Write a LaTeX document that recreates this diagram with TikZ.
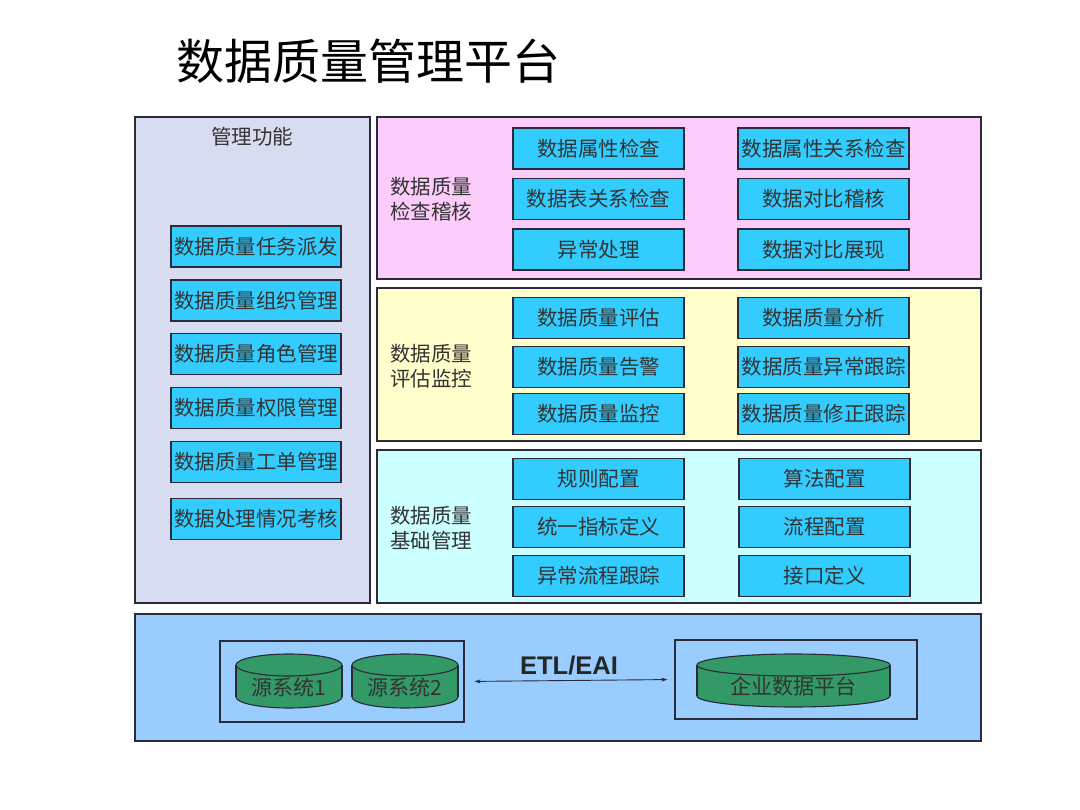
\documentclass[tikz,border=0pt]{standalone}
\usepackage{fontspec}
\setmainfont{Noto Sans CJK SC}
\newfontfamily\arialfont{Liberation Sans}
\usetikzlibrary{arrows.meta}
\definecolor{txt}{HTML}{333333}
\definecolor{lavender}{HTML}{D8DCF0}
\definecolor{pinkbg}{HTML}{FCCCFA}
\definecolor{yellowbg}{HTML}{FFFFCC}
\definecolor{cyanbg}{HTML}{CCFFFF}
\definecolor{bluebg}{HTML}{99CCFF}
\definecolor{boxblue}{HTML}{33CCFF}
\definecolor{dbgreen}{HTML}{339966}
\definecolor{edge}{HTML}{2A2A3A}
\tikzset{
  panel/.style={draw=edge, line width=1.3pt, inner sep=0pt},
  fbox/.style={draw=edge, line width=1.2pt, fill=boxblue, minimum width=171pt, minimum height=41pt, inner sep=0pt, text=txt, font=\fontsize{20.5}{21}\selectfont},
  plabel/.style={anchor=west, align=left, text=txt, font=\fontsize{20.5}{25}\selectfont, inner sep=0pt},
  frame/.style={draw=edge, line width=1.2pt, inner sep=0pt},
  cylfill/.style={fill=dbgreen},
  cylstyle/.style={fill=dbgreen, draw=edge, line width=1.1pt},
  cylline/.style={draw=edge, line width=1.1pt},
  cyltext/.style={text=txt, font=\fontsize{21}{22}\selectfont, inner sep=0pt}
}
\newcommand{\dbcyl}[6]{%
  \filldraw[cylstyle] (#1,#3-11) ellipse ({#4} and 11);
  \fill[cylfill] (#1-#4,#2+11) rectangle (#1+#4,#3-11);
  \draw[cylline] (#1-#4,#2+11) -- (#1-#4,#3-11) (#1+#4,#2+11) -- (#1+#4,#3-11);
  \filldraw[cylstyle] (#1,#2+11) ellipse ({#4} and 11);
  \node[cyltext] (#5) at (#1,{(#2+#3)/2+6}) {#6};}
\begin{document}
\begin{tikzpicture}[x=1pt,y=-1pt]
\useasboundingbox[fill=white] (0,0) rectangle (1080,810);
% title
\node[font=\fontsize{48}{50}\selectfont, text=black, inner sep=0pt] (title) at (368,61) {数据质量管理平台};
% left panel
\node[panel, fill=lavender, minimum width=235pt, minimum height=486pt] (left) at (252.5,360) {};
\node[text=txt, font=\fontsize{20.5}{21}\selectfont, inner sep=0pt] (lefttitle) at (252,137) {管理功能};
\node[fbox, minimum width=170pt] (l1) at (256,246.5) {数据质量任务派发};
\node[fbox, minimum width=170pt] (l2) at (256,300.5) {数据质量组织管理};
\node[fbox, minimum width=170pt] (l3) at (256,354) {数据质量角色管理};
\node[fbox, minimum width=170pt] (l4) at (256,408) {数据质量权限管理};
\node[fbox, minimum width=170pt] (l5) at (256,462) {数据质量工单管理};
\node[fbox, minimum width=170pt] (l6) at (256,519) {数据处理情况考核};
% pink panel
\node[panel, fill=pinkbg, minimum width=604pt, minimum height=162pt] (pink) at (679,198) {};
\node[plabel] (pinklabel) at (390,199.5) {数据质量\\检查稽核};
\node[fbox] (p1) at (598.5,148.5) {数据属性检查};
\node[fbox] (p2) at (598.5,199) {数据表关系检查};
\node[fbox] (p3) at (598.5,249.5) {异常处理};
\node[fbox] (p4) at (823.5,148.5) {数据属性关系检查};
\node[fbox] (p5) at (823.5,199) {数据对比稽核};
\node[fbox] (p6) at (823.5,249.5) {数据对比展现};
% yellow panel
\node[panel, fill=yellowbg, minimum width=604pt, minimum height=153pt] (yellow) at (679,364.5) {};
\node[plabel] (yellowlabel) at (390,366) {数据质量\\评估监控};
\node[fbox] (y1) at (598.5,318) {数据质量评估};
\node[fbox] (y2) at (598.5,367) {数据质量告警};
\node[fbox] (y3) at (598.5,414) {数据质量监控};
\node[fbox] (y4) at (823.5,318) {数据质量分析};
\node[fbox] (y5) at (823.5,367) {数据质量异常跟踪};
\node[fbox] (y6) at (823.5,414) {数据质量修正跟踪};
% cyan panel
\node[panel, fill=cyanbg, minimum width=604pt, minimum height=153pt] (cyan) at (679,526.5) {};
\node[plabel] (cyanlabel) at (390,528.5) {数据质量\\基础管理};
\node[fbox] (c1) at (598.5,479) {规则配置};
\node[fbox] (c2) at (598.5,527) {统一指标定义};
\node[fbox] (c3) at (598.5,576) {异常流程跟踪};
\node[fbox] (c4) at (824.5,479) {算法配置};
\node[fbox] (c5) at (824.5,527) {流程配置};
\node[fbox] (c6) at (824.5,576) {接口定义};
% bottom band
\node[panel, fill=bluebg, minimum width=846pt, minimum height=127pt] (bottom) at (558,677.5) {};
\node[frame, minimum width=244pt, minimum height=81pt] (lbox) at (342,681.5) {};
\node[frame, minimum width=242pt, minimum height=79pt] (rbox) at (796,679.5) {};
\dbcyl{289}{654}{708}{53}{src1}{源系统1}
\dbcyl{405}{654}{708}{53}{src2}{源系统2}
\dbcyl{793.5}{654}{707}{96.5}{edp}{企业数据平台}
\node[font=\arialfont\bfseries\fontsize{25.5}{26}\selectfont, text=black!85, inner sep=0pt] (etl) at (569,666) {ETL/EAI};
\draw[{Stealth[length=6pt,width=4pt]}-{Stealth[length=6pt,width=4pt]}, line width=0.9pt, draw=edge, shorten <=10pt, shorten >=7pt] (lbox.east) -- (rbox.west);
\end{tikzpicture}
\end{document}
